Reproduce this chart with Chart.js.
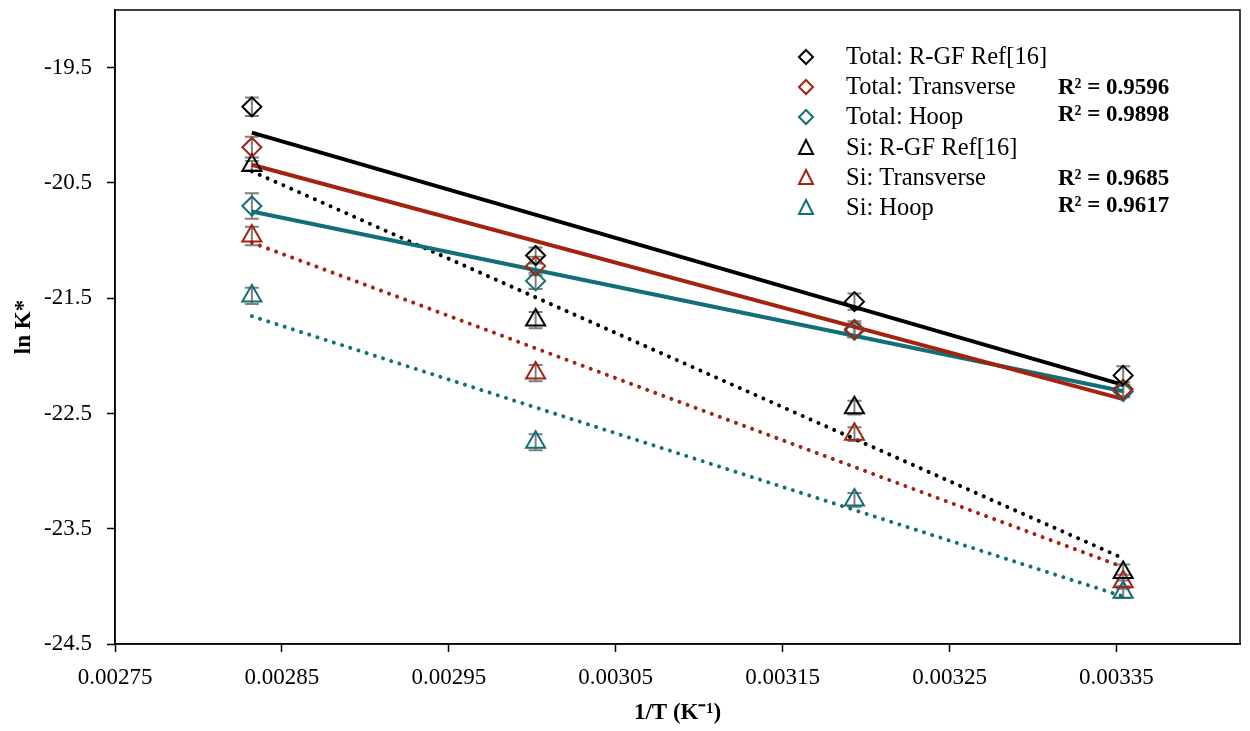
<!DOCTYPE html>
<html lang="en">
<head>
  <meta charset="UTF-8">
  <title>ln K* vs 1/T</title>
  <script src="https://cdn.jsdelivr.net/npm/chart.js"></script>
  <style>
    html, body { margin: 0; padding: 0; background: #fff; }
    .chart-box { width: 1250px; height: 731px; position: relative; }
  </style>
</head>
<body>
  <div class="chart-box"><canvas id="arrhenius"></canvas></div>

  <script>
    // 1/T for 80, 60, 40 and 25 °C
    const invTemp = [0.002832, 0.003002, 0.003193, 0.003354];

    // ln K* per series
    const totalRgf   = [-19.84, -21.13, -21.53, -22.17];
    const totalTrans = [-20.19, -21.22, -21.77, -22.29];
    const totalHoop  = [-20.70, -21.35, -21.78, -22.31];
    const siRgf      = [-20.35, -21.69, -22.45, -23.88];
    const siTrans    = [-20.96, -22.15, -22.68, -23.96];
    const siHoop     = [-21.48, -22.75, -23.25, -24.05];

    // error bar half-heights
    const totalRgfErr   = [0.08, 0.07, 0.07, 0.08];
    const totalTransErr = [0.09, 0.08, 0.07, 0.06];
    const totalHoopErr  = [0.11, 0.07, 0.06, 0.05];
    const siRgfErr      = [0.04, 0.07, 0.06, 0.07];
    const siTransErr    = [0.08, 0.07, 0.06, 0.06];
    const siHoopErr     = [0.07, 0.07, 0.06, 0.05];

    const seriesNames = ['Total: R-GF Ref[16]', 'Total: Transverse', 'Total: Hoop',
                         'Si: R-GF Ref[16]', 'Si: Transverse', 'Si: Hoop'];
    const r2Labels = ['', 'R\u00B2 = 0.9596', 'R\u00B2 = 0.9898', '', 'R\u00B2 = 0.9685', 'R\u00B2 = 0.9617'];

    const xTicks = [0.00275, 0.00285, 0.00295, 0.00305, 0.00315, 0.00325, 0.00335];
    const yTicks = [-24.5, -23.5, -22.5, -21.5, -20.5, -19.5];

    const BLACK = '#000000';
    const RED = '#A3230F';
    const TEAL = '#126E78';
    const FONT = "'Liberation Serif', 'Times New Roman', serif";

    Chart.defaults.font.family = FONT;
    Chart.defaults.font.size = 23;
    Chart.defaults.color = '#000';

    // least squares line across the data range
    function fitLine(ys) {
      const n = invTemp.length;
      const mx = invTemp.reduce((a, b) => a + b, 0) / n;
      const my = ys.reduce((a, b) => a + b, 0) / n;
      let sxy = 0, sxx = 0;
      for (let i = 0; i < n; i++) {
        sxy += (invTemp[i] - mx) * (ys[i] - my);
        sxx += (invTemp[i] - mx) ** 2;
      }
      const k = sxy / sxx;
      const x0 = Math.min(...invTemp), x1 = Math.max(...invTemp);
      return [{ x: x0, y: my + k * (x0 - mx) }, { x: x1, y: my + k * (x1 - mx) }];
    }

    const toPts = ys => ys.map((y, i) => ({ x: invTemp[i], y }));

    const series = [
      { name: seriesNames[0], ys: totalRgf,   err: totalRgfErr,   color: BLACK, style: 'rectRot',  dotted: false },
      { name: seriesNames[1], ys: totalTrans, err: totalTransErr, color: RED,   style: 'rectRot',  dotted: false },
      { name: seriesNames[2], ys: totalHoop,  err: totalHoopErr,  color: TEAL,  style: 'rectRot',  dotted: false },
      { name: seriesNames[3], ys: siRgf,      err: siRgfErr,      color: BLACK, style: 'triangle', dotted: true },
      { name: seriesNames[4], ys: siTrans,    err: siTransErr,    color: RED,   style: 'triangle', dotted: true },
      { name: seriesNames[5], ys: siHoop,     err: siHoopErr,     color: TEAL,  style: 'triangle', dotted: true }
    ];

    const datasets = [];
    series.forEach(s => {
      datasets.push({
        type: 'line',
        label: s.name + ' fit',
        data: fitLine(s.ys),
        borderColor: s.color,
        borderWidth: 4,
        borderDash: s.dotted ? [0.01, 8.6] : [],
        borderCapStyle: s.dotted ? 'round' : 'butt',
        pointRadius: 0,
        fill: false,
        order: 2
      });
    });
    series.forEach(s => {
      datasets.push({
        type: 'scatter',
        label: s.name,
        data: toPts(s.ys),
        errors: s.err,
        pointStyle: s.style,
        pointRadius: s.style === 'triangle' ? 11 : 9.5,
        pointBorderWidth: 2,
        pointBorderColor: s.color,
        pointBackgroundColor: 'rgba(0,0,0,0)',
        showLine: false,
        order: 1
      });
    });

    // grey vertical error bars with caps
    const errorBars = {
      id: 'errorBars',
      beforeDatasetsDraw(chart) {
        const { ctx, scales: { x, y } } = chart;
        ctx.save();
        ctx.strokeStyle = '#7f7f7f';
        ctx.lineWidth = 2;
        chart.data.datasets.forEach(ds => {
          if (!ds.errors) return;
          ds.data.forEach((p, i) => {
            const px = x.getPixelForValue(p.x);
            const top = y.getPixelForValue(p.y + ds.errors[i]);
            const bot = y.getPixelForValue(p.y - ds.errors[i]);
            ctx.beginPath();
            ctx.moveTo(px, top); ctx.lineTo(px, bot);
            ctx.moveTo(px - 7, top); ctx.lineTo(px + 7, top);
            ctx.moveTo(px - 7, bot); ctx.lineTo(px + 7, bot);
            ctx.stroke();
          });
        });
        ctx.restore();
      }
    };

    // box around the plot plus the in-plot legend
    const frameAndLegend = {
      id: 'frameAndLegend',
      afterDraw(chart) {
        const { ctx, chartArea: a } = chart;
        ctx.save();
        ctx.strokeStyle = '#000';
        ctx.lineWidth = 1.5;
        ctx.strokeRect(a.left, a.top, a.right - a.left, a.bottom - a.top);

        const rowY = [57, 87, 117, 148, 178, 208];
        const r2Y = [0, 87, 114, 0, 178, 205];
        ctx.textBaseline = 'middle';
        series.forEach((s, i) => {
          const mx = 806, my = rowY[i];
          ctx.strokeStyle = s.color;
          ctx.lineWidth = 2;
          ctx.beginPath();
          if (s.style === 'rectRot') {
            ctx.moveTo(mx, my - 7); ctx.lineTo(mx + 7, my);
            ctx.lineTo(mx, my + 7); ctx.lineTo(mx - 7, my);
          } else {
            ctx.moveTo(mx, my - 8); ctx.lineTo(mx + 7, my + 6);
            ctx.lineTo(mx - 7, my + 6);
          }
          ctx.closePath();
          ctx.stroke();

          ctx.fillStyle = '#000';
          ctx.font = '24.5px ' + FONT;
          ctx.textAlign = 'left';
          ctx.fillText(s.name, 846, my + 1);
          if (r2Labels[i]) {
            ctx.font = 'bold 23px ' + FONT;
            ctx.fillText(r2Labels[i], 1058, r2Y[i] + 1);
          }
        });
        ctx.restore();
      }
    };

    new Chart(document.getElementById('arrhenius'), {
      data: { datasets },
      plugins: [errorBars, frameAndLegend],
      options: {
        responsive: true,
        maintainAspectRatio: false,
        animation: false,
        layout: { autoPadding: false, padding: { top: 10, right: 10, left: 0, bottom: 0 } },
        plugins: { legend: { display: false }, tooltip: { enabled: false } },
        scales: {
          x: {
            type: 'linear',
            min: 0.00275,
            max: 0.003424,
            afterBuildTicks: axis => { axis.ticks = xTicks.map(v => ({ value: v })); },
            afterFit: axis => { axis.height = 87; axis.paddingLeft = 0; axis.paddingRight = 0; },
            ticks: {
              padding: 12,
              maxRotation: 0,
              callback: v => v.toFixed(5),
              font: { size: 23 }
            },
            grid: { drawOnChartArea: false, drawTicks: true, tickLength: 8, color: '#000', tickWidth: 1.5 },
            border: { color: '#000', width: 1.5 },
            title: {
              display: true,
              text: '1/T (K\u207B\u00B9)',
              font: { size: 23, weight: 'bold' },
              padding: { top: 0, bottom: 4 }
            }
          },
          y: {
            type: 'linear',
            min: -24.5,
            max: -19,
            afterBuildTicks: axis => { axis.ticks = yTicks.map(v => ({ value: v })); },
            afterFit: axis => { axis.width = 115; axis.paddingTop = 0; axis.paddingBottom = 0; },
            ticks: {
              padding: 15,
              callback: v => v.toFixed(1),
              font: { size: 23 }
            },
            grid: { drawOnChartArea: false, drawTicks: true, tickLength: 8, color: '#000', tickWidth: 1.5 },
            border: { color: '#000', width: 1.5 },
            title: {
              display: true,
              text: 'ln K*',
              font: { size: 23, weight: 'bold' },
              padding: { top: 10, bottom: 0 }
            }
          }
        }
      }
    });
  </script>
</body>
</html>
